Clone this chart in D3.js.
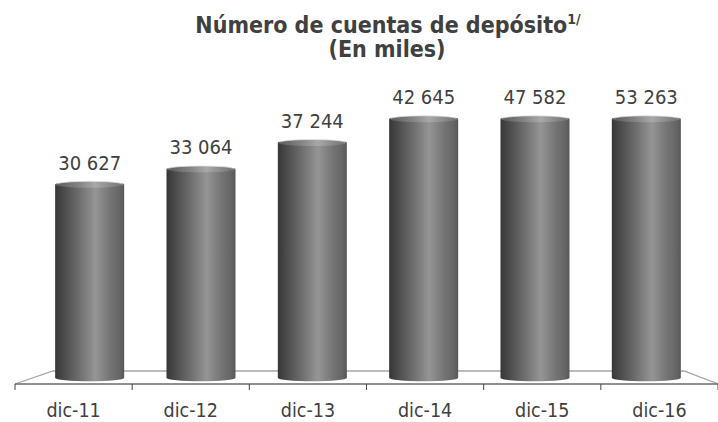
<!DOCTYPE html>
<html>
<head>
<meta charset="utf-8">
<script src="https://cdn.jsdelivr.net/npm/d3@7/dist/d3.min.js"></script>
<style>
  html, body { margin: 0; padding: 0; background: #ffffff; }
  svg { display: block; }
</style>
</head>
<body>
<div id="chart"></div>
<script>
// ---- data ----
const categories = ["dic-11", "dic-12", "dic-13", "dic-14", "dic-15", "dic-16"];
const values = [30627, 33064, 37244, 42645, 47582, 53263];
const valueLabels = ["30 627", "33 064", "37 244", "42 645", "47 582", "53 263"];
const axisMax = 41000; // the original value axis stops here, so taller bars are cut off
const titleMain = "Número de cuentas de depósito";
const titleSup = "1/";
const titleSub = "(En miles)";

// ---- layout ----
const W = 718, H = 422;
const font = "'DejaVu Sans Condensed', 'DejaVu Sans', sans-serif";
const textColor = "#404040";

const svg = d3.select("#chart").append("svg")
  .attr("width", W).attr("height", H);

const defs = svg.append("defs");
const g1 = defs.append("linearGradient").attr("id", "cyl")
  .attr("x1", "0%").attr("x2", "100%").attr("y1", "0%").attr("y2", "0%");
[[0, "#363636"], [0.12, "#4a4a4a"], [0.35, "#6e6e6e"], [0.58, "#959595"], [0.8, "#747474"], [0.93, "#666666"], [1, "#585858"]]
  .forEach(([o, c]) => g1.append("stop").attr("offset", o).attr("stop-color", c));
const g2 = defs.append("linearGradient").attr("id", "cap")
  .attr("x1", "0%").attr("x2", "100%").attr("y1", "0%").attr("y2", "0%");
[[0, "#5a5a5a"], [0.35, "#858585"], [0.58, "#a8a8a8"], [0.8, "#8a8a8a"], [1, "#707070"]]
  .forEach(([o, c]) => g2.append("stop").attr("offset", o).attr("stop-color", c));

// scales: front edge of floor, middle depth (bars), back edge of floor
const xFront = d3.scaleBand().domain(categories).range([15, 718]);
const xMid = d3.scaleBand().domain(categories).range([34, 702]).paddingInner(0.38).paddingOuter(0.19);
const xBack = d3.scaleBand().domain(categories).range([53, 684]);
const yFront = 384, yBack = 371, yMid = 378;
const y = d3.scaleLinear().domain([0, axisMax]).range([yMid, 119]).clamp(true);

// floor
const floor = svg.append("g");
floor.append("path")
  .attr("d", `M${xFront.range()[0]},${yFront} L${xBack.range()[0]},${yBack} L${xBack.range()[1]},${yBack} L${xFront.range()[1]},${yFront}`)
  .attr("fill", "none").attr("stroke", "#a6a6a6").attr("stroke-width", 1.3);

// bars (cylinders)
const ry = 3.2;
const bars = svg.append("g");
categories.forEach((c, i) => {
  const x0 = xMid(c), bw = xMid.bandwidth(), cx = x0 + bw / 2, rx = bw / 2;
  const yt = y(values[i]), yb = y(0);
  bars.append("path")
    .attr("d", `M${x0},${yt} L${x0},${yb} A${rx},${ry} 0 0 0 ${x0 + bw},${yb} L${x0 + bw},${yt} Z`)
    .attr("fill", "url(#cyl)");
  bars.append("ellipse")
    .attr("cx", cx).attr("cy", yt).attr("rx", rx).attr("ry", ry)
    .attr("fill", "url(#cap)");
  bars.append("path")
    .attr("d", `M${x0 + 2},${yt - 0.3} A${rx - 2},${ry - 0.3} 0 0 1 ${x0 + bw - 2},${yt - 0.3}`)
    .attr("fill", "none").attr("stroke", "#e6e6e6").attr("stroke-width", 0.9).attr("opacity", 0.8);
  bars.append("text")
    .attr("x", cx).attr("y", yt - 15)
    .attr("text-anchor", "middle")
    .attr("font-family", font).attr("font-size", 20)
    .attr("fill", textColor)
    .text(valueLabels[i]);
});

// front axis line and ticks
const axisG = svg.append("g").attr("transform", `translate(0,${yFront})`);
axisG.append("line").attr("x1", xFront.range()[0]).attr("x2", xFront.range()[1])
  .attr("y1", 0).attr("y2", 0).attr("stroke", "#6b6b6b").attr("stroke-width", 1.6);
const tickXs = categories.map(c => xFront(c)).concat([xFront.range()[1]]);
axisG.selectAll("line.tick").data(tickXs).join("line").attr("class", "tick")
  .attr("x1", d => d).attr("x2", d => d).attr("y1", 0).attr("y2", 6)
  .attr("stroke", "#444").attr("stroke-width", 1);
axisG.selectAll("text").data(categories).join("text")
  .attr("x", d => xFront(d) + xFront.bandwidth() / 2)
  .attr("y", 33)
  .attr("text-anchor", "middle")
  .attr("font-family", font).attr("font-size", 19.5)
  .attr("fill", textColor)
  .text(d => d);

// title
const t1 = svg.append("text")
  .attr("x", 388).attr("y", 33)
  .attr("text-anchor", "middle")
  .attr("font-family", font).attr("font-size", 23).attr("font-weight", "bold")
  .attr("fill", textColor);
t1.append("tspan").text(titleMain);
t1.append("tspan").attr("font-size", 14).attr("dy", -9).text(titleSup);
svg.append("text")
  .attr("x", 387).attr("y", 57)
  .attr("text-anchor", "middle")
  .attr("font-family", font).attr("font-size", 23).attr("font-weight", "bold")
  .attr("fill", textColor)
  .text(titleSub);
</script>
</body>
</html>
